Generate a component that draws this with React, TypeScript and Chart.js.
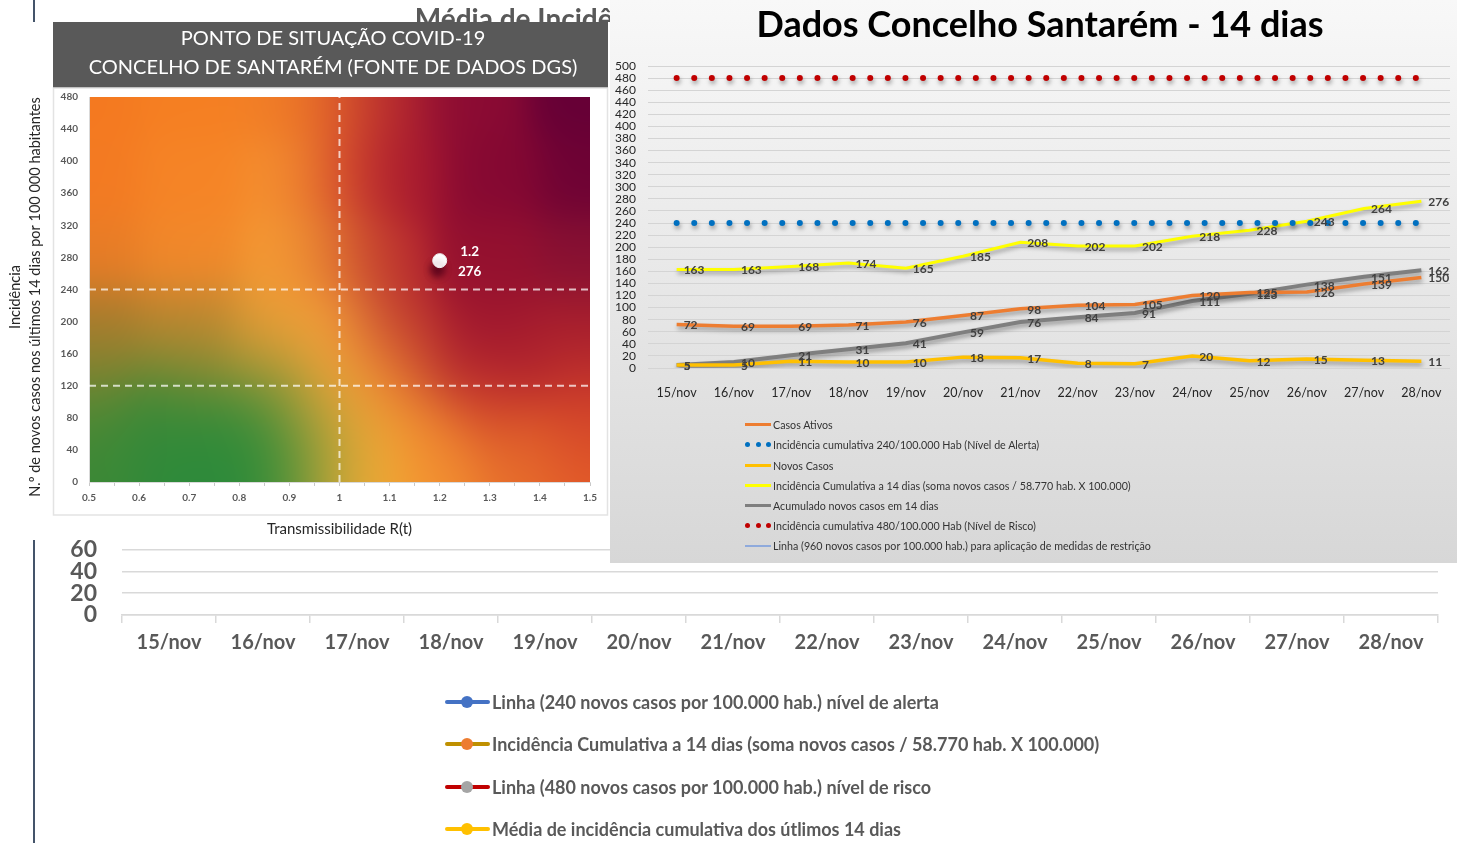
import React, { useEffect, useRef } from "react";
import { Chart, registerables } from "chart.js";
Chart.register(...registerables);

const FONT = "Lato, 'Liberation Sans', sans-serif";

// ---------- data ----------
const DAYS = ["15/nov", "16/nov", "17/nov", "18/nov", "19/nov", "20/nov", "21/nov", "22/nov", "23/nov", "24/nov", "25/nov", "26/nov", "27/nov", "28/nov"];
const CASOS_ATIVOS = [72, 69, 69, 71, 76, 87, 98, 104, 105, 120, 125, 126, 139, 150];
const NOVOS_CASOS = [5, 5, 11, 10, 10, 18, 17, 8, 7, 20, 12, 15, 13, 11];
const INCIDENCIA_14D = [163, 163, 168, 174, 165, 185, 208, 202, 202, 218, 228, 243, 264, 276];
const ACUMULADO_14D = [5, 10, 21, 31, 41, 59, 76, 84, 91, 111, 123, 138, 151, 162];
const NIVEL_ALERTA = [240, 240, 240, 240, 240, 240, 240, 240, 240, 240, 240, 240, 240, 240];
const NIVEL_RISCO = [480, 480, 480, 480, 480, 480, 480, 480, 480, 480, 480, 480, 480, 480];
const LINHA_RESTRICAO = [960, 960, 960, 960, 960, 960, 960, 960, 960, 960, 960, 960, 960, 960];
const MEDIA_INCIDENCIA = [204, 204, 204, 204, 204, 204, 204, 204, 204, 204, 204, 204, 204, 204];

const RT_ATUAL = [1.2];
const INCID_ATUAL = [276];
const RT_RANGE = [0.5, 1.5];
const INC_RANGE = [0, 480];
const RT_LIMITE = [1];
const INC_LIMITES = [120, 240];

const HEAT_TITLE = ["PONTO DE SITUAÇÃO COVID-19", "CONCELHO DE SANTARÉM (FONTE DE DADOS DGS)"];
const HEAT_Y_TITLE = ["Incidência", "N.º de novos casos nos últimos 14 dias por 100 000 habitantes"];
const RIGHT_TITLE = "Dados Concelho Santarém - 14 dias";
const BOTTOM_TITLE = "Média de Incidência Cumulativa - últimos 14 dias";

const RIGHT_LABELS = [
  "Casos Ativos",
  "Incidência cumulativa 240/100.000 Hab (Nível de Alerta)",
  "Novos Casos",
  "Incidência Cumulativa a 14 dias (soma novos casos / 58.770 hab. X 100.000)",
  "Acumulado novos casos em 14 dias",
  "Incidência cumulativa 480/100.000 Hab (Nível de Risco)",
  "Linha (960 novos casos por 100.000 hab.) para aplicação de medidas de restrição",
];
const BOTTOM_LABELS = [
  "Linha (240 novos casos por 100.000 hab.) nível de alerta",
  "Incidência Cumulativa a 14 dias (soma novos casos / 58.770 hab. X 100.000)",
  "Linha (480 novos casos por 100.000 hab.) nível de risco",
  "Média de incidência cumulativa dos útlimos 14 dias",
];

// background colour field of the risk matrix (R, incidence, colour)
const HEAT_ANCHORS: [number, number, string][] = [
  [0.5, 480, "#F47920"], [0.7, 480, "#F57F22"], [0.9, 480, "#F28026"], [1.0, 480, "#DC5A2B"], [1.1, 480, "#B0222F"], [1.25, 480, "#8A0A33"], [1.5, 480, "#660036"],
  [0.5, 380, "#F37A22"], [0.7, 380, "#F58426"], [0.92, 380, "#F5912F"], [1.02, 380, "#D0402C"], [1.12, 380, "#A5172F"], [1.3, 380, "#850832"], [1.5, 380, "#6E0234"],
  [0.5, 280, "#E97C26"], [0.7, 280, "#F2882A"], [0.92, 280, "#F59C34"], [1.0, 280, "#E47A30"], [1.07, 280, "#B4222E"], [1.3, 280, "#94102F"], [1.5, 280, "#861032"],
  [0.5, 200, "#B07A2C"], [0.7, 200, "#C5852F"], [0.88, 200, "#EE9C36"], [1.0, 200, "#F6A43A"], [1.1, 200, "#B4262E"], [1.3, 200, "#9C152E"], [1.5, 200, "#A01A2E"],
  [0.5, 150, "#888230"], [0.7, 150, "#8E8A33"], [0.86, 150, "#BE9A37"], [1.0, 150, "#F7A83A"], [1.1, 150, "#E4742F"], [1.2, 150, "#B0222E"], [1.35, 150, "#AC202D"], [1.5, 150, "#B82A2C"],
  [0.5, 100, "#5C8733"], [0.68, 100, "#3E8A36"], [0.85, 100, "#4C8D37"], [0.95, 100, "#C0A039"], [1.02, 100, "#F7A939"], [1.12, 100, "#EC8430"], [1.3, 100, "#CC3C2B"], [1.5, 100, "#D0402A"],
  [0.5, 50, "#418935"], [0.62, 50, "#30893A"], [0.8, 50, "#2D8B3A"], [0.92, 50, "#328C39"], [0.99, 50, "#D2A83A"], [1.06, 50, "#F8AA34"], [1.2, 50, "#EE842F"], [1.35, 50, "#E0602A"], [1.5, 50, "#D84C29"],
  [0.5, 0, "#3A8836"], [0.7, 0, "#2D8A3A"], [0.9, 0, "#2E8B39"], [0.99, 0, "#C8A83A"], [1.06, 0, "#F9AB33"], [1.2, 0, "#F39231"], [1.35, 0, "#E8702C"], [1.5, 0, "#E45C29"],
];

// ---------- plugins ----------
const heatPanel = {
  id: "heatPanel",
  beforeDraw(chart: any) {
    const { ctx, chartArea: a, scales } = chart;
    const x = scales.x, y = scales.y;
    ctx.save();
    ctx.fillStyle = "#ffffff";
    ctx.fillRect(0, 0, chart.width, chart.height);
    ctx.fillStyle = "#595959";
    ctx.fillRect(53, 0, 555, 66);
    ctx.strokeStyle = "#E3E3E3";
    ctx.lineWidth = 1.5;
    ctx.strokeRect(53.5, 66, 554, 427);
    ctx.fillStyle = "#ffffff";
    ctx.font = `20px ${FONT}`;
    ctx.textAlign = "center";
    ctx.textBaseline = "middle";
    ctx.fillText(HEAT_TITLE[0], 333, 17);
    ctx.fillText(HEAT_TITLE[1], 333, 46);

    // rotated y-axis title
    ctx.fillStyle = "#262626";
    ctx.font = `14.5px ${FONT}`;
    ctx.translate(0, 275);
    ctx.rotate(-Math.PI / 2);
    ctx.fillText(HEAT_Y_TITLE[0], 0, 15);
    ctx.fillText(HEAT_Y_TITLE[1], 0, 35);
    ctx.setTransform(1, 0, 0, 1, 0, 0);

    const L = Math.round(a.left), T = Math.round(a.top);
    const W = Math.round(a.right) - L, H = Math.round(a.bottom) - T;
    const img = ctx.createImageData(W, H);
    const n = HEAT_ANCHORS.length;
    const sr = 0.07, si = 40;
    const cols = HEAT_ANCHORS.map((h) => [parseInt(h[2].slice(1, 3), 16), parseInt(h[2].slice(3, 5), 16), parseInt(h[2].slice(5, 7), 16)]);
    const ex: Float64Array[] = [], ey: Float64Array[] = [];
    for (let k = 0; k < n; k++) {
      const fx = new Float64Array(W), fy = new Float64Array(H);
      for (let i = 0; i < W; i++) { const d = (x.getValueForPixel(L + i + 0.5) - HEAT_ANCHORS[k][0]) / sr; fx[i] = Math.exp(-0.5 * d * d); }
      for (let j = 0; j < H; j++) { const d = (y.getValueForPixel(T + j + 0.5) - HEAT_ANCHORS[k][1]) / si; fy[j] = Math.exp(-0.5 * d * d); }
      ex.push(fx); ey.push(fy);
    }
    const data = img.data;
    for (let j = 0; j < H; j++) {
      for (let i = 0; i < W; i++) {
        let ws = 0, r = 0, g = 0, b = 0;
        for (let k = 0; k < n; k++) {
          const w = ex[k][i] * ey[k][j] + 1e-14;
          ws += w; r += w * cols[k][0]; g += w * cols[k][1]; b += w * cols[k][2];
        }
        const p = (j * W + i) * 4;
        data[p] = r / ws; data[p + 1] = g / ws; data[p + 2] = b / ws; data[p + 3] = 255;
      }
    }
    ctx.putImageData(img, L, T);
    ctx.restore();
  },
  afterDatasetsDraw(chart: any) {
    const { ctx } = chart;
    const meta = chart.getDatasetMeta(0);
    ctx.save();
    ctx.fillStyle = "#ffffff";
    ctx.font = `bold 13.5px ${FONT}`;
    ctx.textAlign = "center";
    ctx.textBaseline = "middle";
    meta.data.forEach((pt: any, i: number) => {
      ctx.fillText(String(RT_ATUAL[i]), pt.x + 30, pt.y - 9);
      ctx.fillText(String(INCID_ATUAL[i]), pt.x + 30, pt.y + 11);
    });
    ctx.restore();
  },
};

const shadowPlugin = {
  id: "shadowPlugin",
  beforeDatasetDraw(chart: any, args: any) {
    const ds = chart.data.datasets[args.index];
    if (ds.shadow) {
      const c = chart.ctx;
      c.save();
      c.shadowColor = ds.shadow;
      c.shadowBlur = ds.shadowBlur ?? 4;
      c.shadowOffsetX = ds.shadowX ?? 1;
      c.shadowOffsetY = ds.shadowY ?? 3;
    }
  },
  afterDatasetDraw(chart: any, args: any) {
    const ds = chart.data.datasets[args.index];
    if (ds.shadow) chart.ctx.restore();
  },
};

const panelBg = {
  id: "panelBg",
  beforeDraw(chart: any) {
    const { ctx, width, height } = chart;
    const g = ctx.createLinearGradient(0, 0, 0, height);
    g.addColorStop(0, "#F8F8F8");
    g.addColorStop(0.55, "#E6E6E6");
    g.addColorStop(1, "#D7D7D7");
    ctx.save();
    ctx.fillStyle = g;
    ctx.fillRect(0, 0, width, height);
    ctx.fillStyle = "#000000";
    ctx.font = `bold 36px ${FONT}`;
    ctx.textAlign = "center";
    ctx.textBaseline = "middle";
    ctx.fillText(RIGHT_TITLE, 430, 25);
    ctx.restore();
  },
};

const valueLabels = {
  id: "valueLabels",
  afterDatasetsDraw(chart: any) {
    const { ctx } = chart;
    ctx.save();
    ctx.font = `bold 12px ${FONT}`;
    ctx.fillStyle = "#404040";
    ctx.textAlign = "left";
    ctx.textBaseline = "middle";
    chart.data.datasets.forEach((ds: any, i: number) => {
      if (!ds.showValues) return;
      const meta = chart.getDatasetMeta(i);
      meta.data.forEach((pt: any, j: number) => {
        ctx.fillText(String(ds.data[j]), pt.x + 7, pt.y + 1);
      });
    });
    ctx.restore();
  },
};

// ---------- series tables ----------
const RIGHT_SERIES = [
  { label: RIGHT_LABELS[0], data: CASOS_ATIVOS, color: "#ED7D31", kind: "line", width: 3.5, values: true, order: 3 },
  { label: RIGHT_LABELS[1], data: NIVEL_ALERTA, color: "#0070C0", kind: "dots", width: 6, values: false, order: 0 },
  { label: RIGHT_LABELS[2], data: NOVOS_CASOS, color: "#FFC000", kind: "line", width: 3.5, values: true, order: 2 },
  { label: RIGHT_LABELS[3], data: INCIDENCIA_14D, color: "#FFFF00", kind: "line", width: 3, values: true, order: 1 },
  { label: RIGHT_LABELS[4], data: ACUMULADO_14D, color: "#7F7F7F", kind: "line", width: 4, values: true, order: 4 },
  { label: RIGHT_LABELS[5], data: NIVEL_RISCO, color: "#C00000", kind: "dots", width: 6, values: false, order: 0 },
  { label: RIGHT_LABELS[6], data: LINHA_RESTRICAO, color: "#8FAADC", kind: "thin", width: 1.2, values: false, order: 5 },
];

const BOTTOM_SERIES = [
  { label: BOTTOM_LABELS[0], data: NIVEL_ALERTA, line: "#4472C4", marker: "#4472C4" },
  { label: BOTTOM_LABELS[1], data: INCIDENCIA_14D, line: "#BF9000", marker: "#ED7D31" },
  { label: BOTTOM_LABELS[2], data: NIVEL_RISCO, line: "#C00000", marker: "#A5A5A5" },
  { label: BOTTOM_LABELS[3], data: MEDIA_INCIDENCIA, line: "#FFC000", marker: "#FFC000" },
];

// ---------- configs ----------
function bottomConfig(): any {
  return {
    type: "line",
    data: {
      labels: DAYS,
      datasets: BOTTOM_SERIES.map((s) => ({
        label: s.label, data: s.data, borderColor: s.line, backgroundColor: s.marker,
        pointBackgroundColor: s.marker, pointBorderColor: s.marker, borderWidth: 4, pointRadius: 6,
      })),
    },
    options: {
      responsive: false,
      animation: false,
      layout: { padding: { left: 0, right: 19, top: 0, bottom: 178 } },
      plugins: {
        legend: { display: false },
        tooltip: { enabled: false },
        title: {
          display: true, text: BOTTOM_TITLE, color: "#595959",
          font: { family: FONT, size: 28, weight: "bold", lineHeight: 1.2 },
          padding: { top: 3, bottom: 513 },
        },
      },
      scales: {
        x: {
          offset: true,
          grid: { offset: true, drawOnChartArea: false, drawTicks: true, tickLength: 8, color: "#D9D9D9", lineWidth: 1.5 },
          border: { color: "#D9D9D9", width: 1.5 },
          ticks: { font: { family: FONT, size: 20, weight: "bold" }, color: "#595959", padding: 8, maxRotation: 0, autoSkip: false },
          afterFit: (s: any) => { s.height = 50; },
        },
        y: {
          min: 0, max: 60,
          ticks: { stepSize: 20, autoSkip: false, font: { family: FONT, size: 23, weight: "bold", lineHeight: 1 }, color: "#595959", padding: 25 },
          grid: { color: "#D9D9D9", lineWidth: 1.5, drawTicks: false },
          border: { display: false },
          afterFit: (s: any) => { s.width = 122; },
        },
      },
    },
  };
}

function heatConfig(): any {
  const dash = { showLine: true, borderColor: "rgba(255,255,255,0.72)", borderWidth: 2, borderDash: [7, 5], pointRadius: 0 };
  return {
    type: "scatter",
    data: {
      datasets: [
        {
          label: "Santarém", data: RT_ATUAL.map((r, i) => ({ x: r, y: INCID_ATUAL[i] })),
          pointRadius: 7, pointBackgroundColor: "#ffffff", pointBorderColor: "#F0F0F0", pointBorderWidth: 1,
          shadow: "rgba(80,0,25,0.8)", shadowBlur: 6, shadowX: -2, shadowY: 9,
        },
        { label: "R=1", data: [{ x: RT_LIMITE[0], y: INC_RANGE[0] }, { x: RT_LIMITE[0], y: INC_RANGE[1] }], ...dash },
        { label: "120", data: [{ x: RT_RANGE[0], y: INC_LIMITES[0] }, { x: RT_RANGE[1], y: INC_LIMITES[0] }], ...dash },
        { label: "240", data: [{ x: RT_RANGE[0], y: INC_LIMITES[1] }, { x: RT_RANGE[1], y: INC_LIMITES[1] }], ...dash },
      ],
    },
    options: {
      responsive: false,
      animation: false,
      layout: { padding: { left: 0, right: 20, top: 75, bottom: 0 } },
      plugins: { legend: { display: false }, tooltip: { enabled: false } },
      scales: {
        x: {
          type: "linear", min: RT_RANGE[0], max: RT_RANGE[1],
          ticks: {
            stepSize: 0.05, autoSkip: false, maxRotation: 0,
            callback: (v: number) => (Math.round(v * 100) % 10 === 0 ? String(Number(v.toFixed(1))) : ""),
            font: { family: FONT, size: 10, weight: "bold" }, color: "#595959", padding: 6,
          },
          grid: { drawOnChartArea: false, drawTicks: true, tickLength: 4, color: "#C8C8C8" },
          border: { color: "#D9D9D9" },
          title: { display: true, text: "Transmissibilidade R(t)", font: { family: FONT, size: 15 }, color: "#262626", padding: { top: 0, bottom: 2 } },
          afterFit: (s: any) => { s.height = 58; },
        },
        y: {
          min: INC_RANGE[0], max: INC_RANGE[1],
          ticks: { stepSize: 40, autoSkip: false, font: { family: FONT, size: 10, weight: "bold" }, color: "#595959", padding: 3 },
          grid: { display: false },
          border: { color: "#D9D9D9" },
          title: { display: false },
          afterFit: (s: any) => { s.width = 89; },
        },
      },
    },
  };
}

function rightConfig(): any {
  return {
    type: "line",
    data: {
      labels: DAYS,
      datasets: RIGHT_SERIES.map((s) => ({
        label: s.label, data: s.data, borderColor: s.color, backgroundColor: s.color,
        borderWidth: s.width, pointRadius: 0, order: s.order, tension: 0,
        borderDash: s.kind === "dots" ? [0, 17.6] : [],
        borderCapStyle: s.kind === "dots" ? "round" : "butt",
        showValues: s.values,
        shadow: s.kind === "thin" ? undefined : "rgba(0,0,0,0.35)",
      })),
    },
    options: {
      responsive: false,
      animation: false,
      layout: { padding: { left: 0, right: 7, top: 66, bottom: 165 } },
      plugins: {
        legend: { display: false },
        tooltip: { enabled: false },
        title: { display: false },
      },
      scales: {
        x: {
          offset: true,
          grid: { display: false },
          border: { display: false },
          ticks: { font: { family: FONT, size: 12.5 }, color: "#262626", padding: 9, maxRotation: 0, autoSkip: false },
          afterFit: (s: any) => { s.height = 30; },
        },
        y: {
          min: 0, max: 500,
          ticks: { stepSize: 20, autoSkip: false, font: { family: FONT, size: 12, lineHeight: 1 }, color: "#262626", padding: 12 },
          grid: { color: "#D4D4D4", lineWidth: 1, drawTicks: false },
          border: { display: false },
          afterFit: (s: any) => { s.width = 38; },
        },
      },
    },
  };
}

// ---------- components ----------
function ChartCanvas({ config, plugins, width, height }: { config: () => any; plugins: any[]; width: number; height: number }) {
  const ref = useRef<HTMLCanvasElement | null>(null);
  useEffect(() => {
    if (!ref.current) return;
    const cfg = config();
    cfg.plugins = plugins;
    const chart = new Chart(ref.current, cfg);
    return () => chart.destroy();
  }, []);
  return <canvas ref={ref} width={width} height={height} style={{ display: "block", width, height }} />;
}

function RightLegend() {
  return (
    <>
      {RIGHT_SERIES.map((s, i) => (
        <div key={i} style={{ position: "absolute", left: 135, top: 424.7 + i * 20.2 - 8, height: 16, display: "flex", alignItems: "center", whiteSpace: "nowrap", fontFamily: FONT, fontSize: 10.7, color: "#333333" }}>
          <div style={{ width: 28, height: 16, position: "relative" }}>
            {s.kind === "dots" ? (
              [0, 1, 2].map((d) => (
                <div key={d} style={{ position: "absolute", left: d * 10.6, top: 5.5, width: 5, height: 5, borderRadius: "50%", background: s.color }} />
              ))
            ) : (
              <div style={{ position: "absolute", left: 0, top: s.kind === "thin" ? 7.5 : 6.5, width: 26, height: s.kind === "thin" ? 1.3 : 3, background: s.color }} />
            )}
          </div>
          <span>{s.label}</span>
        </div>
      ))}
    </>
  );
}

function BottomLegend() {
  return (
    <>
      {BOTTOM_SERIES.map((s, i) => (
        <div key={i} style={{ position: "absolute", left: 445, top: 702 + i * 42.3 - 12, height: 24, display: "flex", alignItems: "center", whiteSpace: "nowrap", fontFamily: FONT, fontSize: 18, fontWeight: "bold", color: "#595959" }}>
          <div style={{ width: 47, height: 24, position: "relative" }}>
            <div style={{ position: "absolute", left: 0, top: 10, width: 45, height: 4, borderRadius: 2, background: s.line }} />
            <div style={{ position: "absolute", left: 16, top: 6, width: 12, height: 12, borderRadius: "50%", background: s.marker }} />
          </div>
          <span>{s.label}</span>
        </div>
      ))}
    </>
  );
}

export default function App() {
  return (
    <div style={{ position: "absolute", left: 0, top: 0, width: 1457, height: 843, overflow: "hidden", background: "#ffffff" }}>
      <div style={{ position: "absolute", left: 0, top: 0 }}>
        <ChartCanvas config={bottomConfig} plugins={[]} width={1457} height={843} />
      </div>
      <BottomLegend />
      <div style={{ position: "absolute", left: 33, top: 0, width: 1.5, height: 843, background: "#44546A" }} />
      <div style={{ position: "absolute", left: 0, top: 22 }}>
        <ChartCanvas config={heatConfig} plugins={[heatPanel, shadowPlugin]} width={610} height={518} />
      </div>
      <div style={{ position: "absolute", left: 610, top: 0, width: 847, height: 563 }}>
        <ChartCanvas config={rightConfig} plugins={[panelBg, shadowPlugin, valueLabels]} width={847} height={563} />
        <RightLegend />
      </div>
    </div>
  );
}
